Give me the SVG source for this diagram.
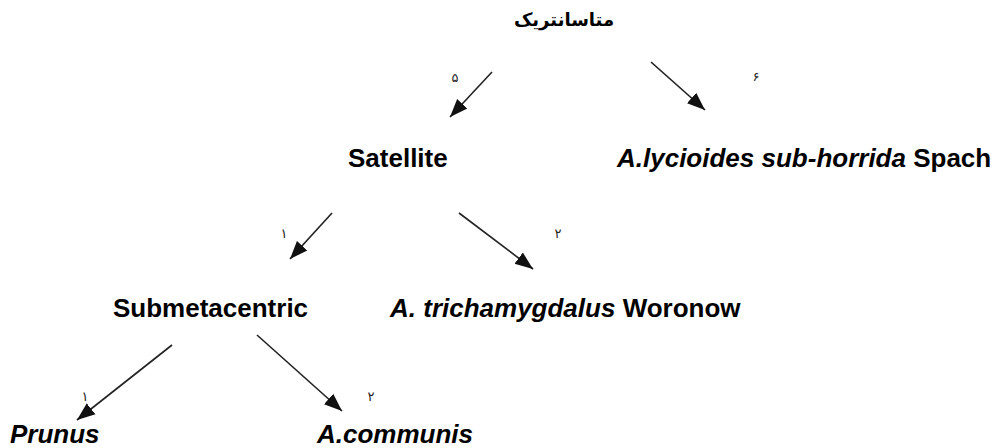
<svg xmlns="http://www.w3.org/2000/svg" width="999" height="448" viewBox="0 0 999 448">
<defs>
<style>
.lbl{font-family:"Liberation Sans",Arial,sans-serif;font-size:26px;font-weight:bold;fill:#000}
.it{font-style:italic}
.title{font-family:"DejaVu Sans","Noto Sans",sans-serif;font-size:18px;font-weight:bold;fill:#000}
.num{font-family:"DejaVu Sans","Noto Sans",sans-serif;font-size:13px;fill:#222}
.conn line{stroke:#222;stroke-width:1.6;fill:none;marker-end:url(#ah)}
</style>
<marker id="ah" markerUnits="userSpaceOnUse" markerWidth="20" markerHeight="16" viewBox="0 0 20 16" refX="18" refY="8" orient="auto">
<path d="M0,1 L18,8 L0,15 Z" fill="#111"/>
</marker>
</defs>
<rect width="999" height="448" fill="#fff"/>
<g id="connectors" class="conn">
<line x1="492" y1="72" x2="450" y2="117"/>
<line x1="651" y1="62" x2="705" y2="110"/>
<line x1="332" y1="213" x2="290" y2="259"/>
<line x1="459" y1="213" x2="533" y2="269"/>
<line x1="172" y1="345" x2="77" y2="420"/>
<line x1="257" y1="335" x2="342" y2="411"/>
</g>
<g id="edge-labels">
<text class="num" x="455" y="82" text-anchor="middle">۵</text>
<text class="num" x="756" y="81" text-anchor="middle">۶</text>
<text class="num" x="284" y="238" text-anchor="middle">۱</text>
<text class="num" x="558" y="238" text-anchor="middle">۲</text>
<text class="num" x="85" y="401" text-anchor="middle">۱</text>
<text class="num" x="371" y="401" text-anchor="middle">۲</text>
</g>
<g id="node-metacentric"><text class="title" x="564" y="26" text-anchor="middle" direction="rtl">متاسانتریک</text></g>
<g id="node-satellite"><text class="lbl" x="348" y="167">Satellite</text></g>
<g id="node-lycioides"><text class="lbl" x="617" y="167"><tspan class="it">A.lycioides sub-horrida</tspan> Spach</text></g>
<g id="node-submetacentric"><text class="lbl" x="113" y="317">Submetacentric</text></g>
<g id="node-trichamygdalus"><text class="lbl" x="390" y="317"><tspan class="it">A. trichamygdalus</tspan> Woronow</text></g>
<g id="node-prunus"><text class="lbl it" x="10" y="443">Prunus</text></g>
<g id="node-communis"><text class="lbl it" x="317" y="443">A.communis</text></g>
</svg>
